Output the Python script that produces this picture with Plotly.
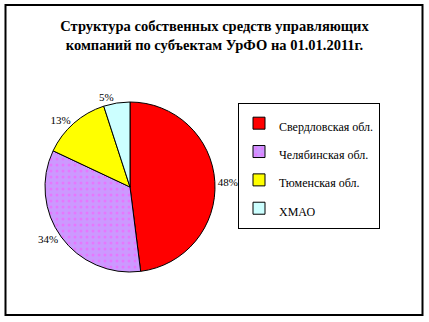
import plotly.graph_objects as go

regions = ["Свердловская обл.", "Челябинская обл.", "Тюменская обл.", "ХМАО"]
shares = [48, 34, 13, 5]
colors = ["#FF0000", "#CC99FF", "#FFFF00", "#CCFFFF"]
patterns = ["", ".", "", ""]
title_lines = ["Структура собственных средств управляющих",
               "компаний по субъектам УрФО на 01.01.2011г."]

W, H = 429, 322
SERIF = "Liberation Serif"

legend_labels = ['<span style="font-size:12px">%s</span>' % r for r in regions]

fig = go.Figure(go.Pie(
    labels=legend_labels,
    values=shares,
    sort=False,
    direction="clockwise",
    rotation=0,
    marker=dict(colors=colors, line=dict(color="black", width=1),
                pattern=dict(shape=patterns, fgcolor="#FF55FF", bgcolor=colors,
                             size=6, solidity=0.2, fillmode="overlay")),
    texttemplate="%{percent:.0%}",
    textposition="outside",
    textfont=dict(family=SERIF, size=11, color="black"),
    hoverinfo="label+percent",
    domain=dict(x=[45 / W, 215 / W], y=[1 - 272 / H, 1 - 102 / H]),
    showlegend=True,
))

fig.update_layout(
    width=W, height=H,
    margin=dict(l=0, r=0, t=0, b=0),
    paper_bgcolor="white",
    plot_bgcolor="white",
    font=dict(family=SERIF, color="black"),
    title=dict(text="<b>" + "<br>".join(title_lines) + "</b>",
               x=0.5, xanchor="center", y=1 - 31 / H, yanchor="top",
               font=dict(family=SERIF, size=14.5, color="black")),
    legend=dict(x=238 / W, xanchor="left", y=1 - 103 / H, yanchor="top",
                bordercolor="black", borderwidth=1, bgcolor="white",
                font=dict(family=SERIF, size=19.5, color="black")),
    shapes=[dict(type="rect", xref="paper", yref="paper",
                 x0=5.5 / W, x1=422.5 / W, y0=1 - 315 / H, y1=1 - 5 / H,
                 line=dict(color="black", width=2))],
)

fig.write_html("out.html")
